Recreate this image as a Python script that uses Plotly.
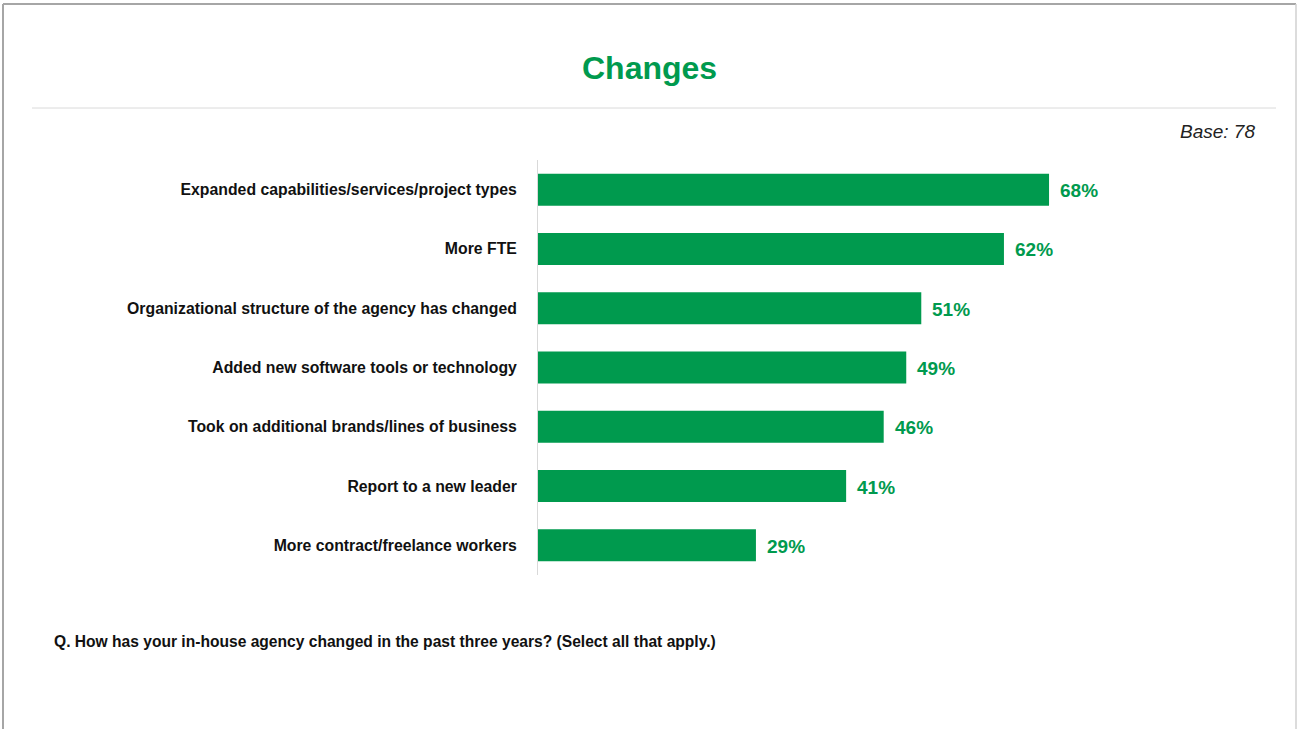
import plotly.graph_objects as go

# Survey results: share of respondents reporting each change
categories = [
    "Expanded capabilities/services/project types",
    "More FTE",
    "Organizational structure of the agency has changed",
    "Added new software tools or technology",
    "Took on additional brands/lines of business",
    "Report to a new leader",
    "More contract/freelance workers",
]
values = [68, 62, 51, 49, 46, 41, 29]

title_text = "Changes"
base_text = "Base: 78"
question_text = "Q. How has your in-house agency changed in the past three years? (Select all that apply.)"

GREEN = "#009A4E"
SANS = "Liberation Sans, Arial, sans-serif"

W, H = 1298, 729
M_L, M_R, M_T, M_B = 538, 22, 160, 154
PW, PH = W - M_L - M_R, H - M_T - M_B


def px(x):
    return (x - M_L) / PW


def py(y):
    return 1 - (y - M_T) / PH


fig = go.Figure(
    go.Bar(
        x=values,
        y=categories,
        orientation="h",
        marker=dict(color=GREEN, line=dict(width=0)),
        hoverinfo="skip",
    )
)

annotations = [
    dict(
        x=v, y=c, xref="x", yref="y", text=f"{v}%", showarrow=False,
        xanchor="left", xshift=9, yshift=-1,
        font=dict(family=SANS, size=19, color=GREEN, weight="bold"),
    )
    for c, v in zip(categories, values)
]

annotations += [
    dict(x=px(649), y=py(68), xref="paper", yref="paper", text=f"<b>{title_text}</b>",
         showarrow=False, xanchor="center", yanchor="middle",
         font=dict(family=SANS, size=32, color=GREEN)),
    dict(x=px(1257), y=py(131), xref="paper", yref="paper", text=f"<i>{base_text}</i>",
         showarrow=False, xanchor="right", yanchor="middle",
         font=dict(family=SANS, size=19, color="#222222")),
    dict(x=px(52), y=py(641), xref="paper", yref="paper", text=f"<b>{question_text}</b>",
         showarrow=False, xanchor="left", yanchor="middle",
         font=dict(family=SANS, size=15.6, color="#111111")),
]

shapes = [
    # frame around the slide
    dict(type="line", xref="paper", yref="paper", x0=px(3), x1=px(1296), y0=py(4), y1=py(4),
         line=dict(color="#A6A6A6", width=2)),
    dict(type="line", xref="paper", yref="paper", x0=px(3), x1=px(3), y0=py(4), y1=py(729),
         line=dict(color="#A6A6A6", width=2)),
    dict(type="line", xref="paper", yref="paper", x0=px(1296), x1=px(1296), y0=py(4), y1=py(729),
         line=dict(color="#D0D0D0", width=1.5)),
    # rule under the title
    dict(type="line", xref="paper", yref="paper", x0=px(32), x1=px(1276), y0=py(108), y1=py(108),
         line=dict(color="#DADADA", width=1)),
]

fig.update_layout(
    width=W, height=H,
    margin=dict(l=M_L, r=M_R, t=M_T, b=M_B),
    paper_bgcolor="white", plot_bgcolor="white",
    bargap=0.46,
    showlegend=False,
    annotations=annotations,
    shapes=shapes,
    xaxis=dict(range=[0, 98.2], visible=False, fixedrange=True),
    yaxis=dict(
        autorange="reversed",
        showline=True, linecolor="#D9D9D9", linewidth=1,
        showgrid=False, zeroline=False,
        ticks="outside", ticklen=17, tickcolor="rgba(0,0,0,0)",
        tickfont=dict(family=SANS, size=15.8, color="#111111", weight="bold"),
        fixedrange=True,
    ),
)

fig.write_html("out.html", config={"displayModeBar": False})
